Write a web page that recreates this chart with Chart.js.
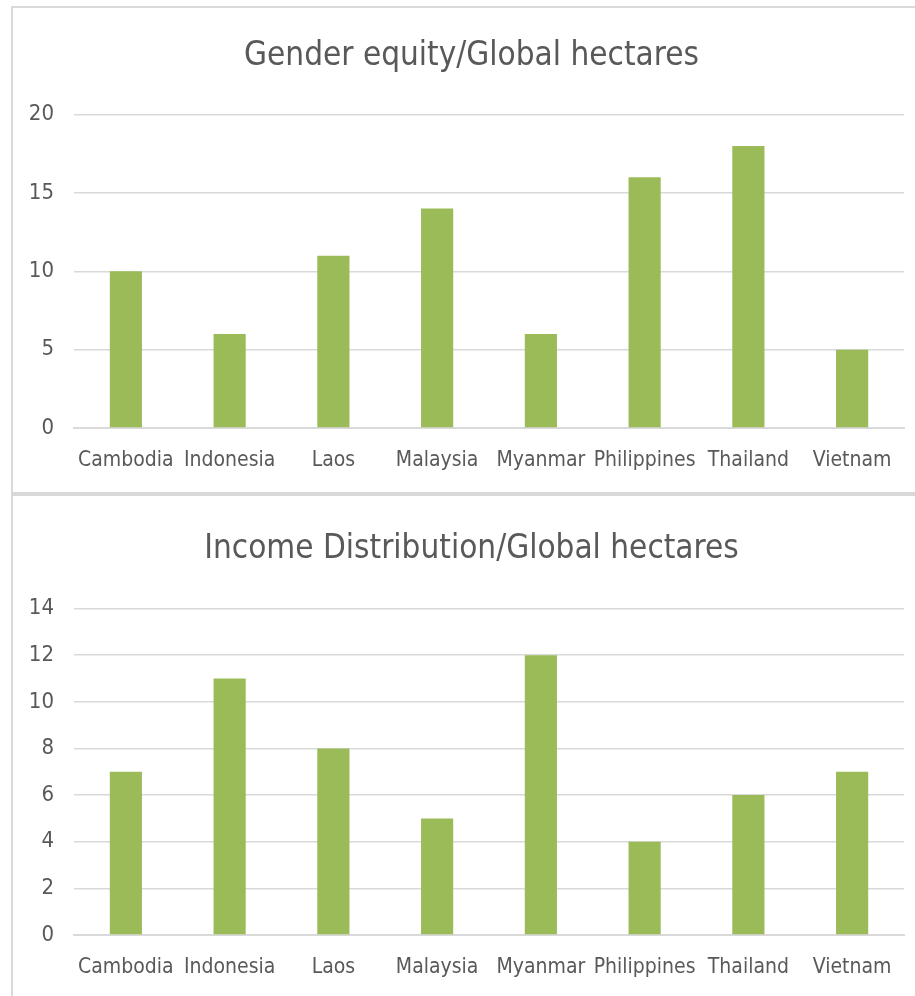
<!DOCTYPE html>
<html>
<head>
<meta charset="utf-8">
<script src="https://cdn.jsdelivr.net/npm/chart.js@4.4.1/dist/chart.umd.min.js"></script>
<style>
  html, body { margin: 0; padding: 0; background: #ffffff; width: 915px; height: 996px; overflow: hidden; position: relative; }
  .panel { position: absolute; background: #fff; }
  #p1 { left: 11px; top: 6px; width: 930px; height: 486px; border-left: 2px solid #d9d9d9; border-top: 2px solid #d9d9d9; }
  #p2 { left: 11px; top: 492px; width: 930px; height: 504px; border-left: 2px solid #d9d9d9; border-top: 4px solid #d9d9d9; }
  canvas { display: block; }
</style>
</head>
<body>
<div class="panel" id="p1"><canvas id="c1" width="930" height="486"></canvas></div>
<div class="panel" id="p2"><canvas id="c2" width="930" height="504"></canvas></div>
<script>
const categories = ["Cambodia", "Indonesia", "Laos", "Malaysia", "Myanmar", "Philippines", "Thailand", "Vietnam"];
const genderEquity = [10, 6, 11, 14, 6, 16, 18, 5];
const incomeDistribution = [7, 11, 8, 5, 12, 4, 6, 7];
const title1 = "Gender equity/Global hectares";
const title2 = "Income Distribution/Global hectares";
const yTicks1 = { min: 0, max: 20, step: 5 };
const yTicks2 = { min: 0, max: 14, step: 2 };

const FONT = "'Liberation Sans Narrow', 'DejaVu Sans Condensed', 'Arial Narrow', sans-serif";
const TXT = "#595959";
const BAR = "#9bbb59";
const GRID = "#d9d9d9";

function makeChart(id, title, data, yt, geom) {
  return new Chart(document.getElementById(id), {
    type: 'bar',
    data: {
      labels: categories,
      datasets: [{ data: data, backgroundColor: BAR, borderWidth: 0, barPercentage: 0.31, categoryPercentage: 1.0, yAxisID: 'y' }]
    },
    options: {
      responsive: false,
      animation: false,
      devicePixelRatio: 1,
      layout: { padding: { left: 0, right: geom.right, top: 0, bottom: 0 } },
      plugins: {
        legend: { display: false },
        tooltip: { enabled: false },
        title: {
          display: true, text: title, color: TXT,
          font: { family: FONT, size: geom.titleSize, weight: 'normal' },
          padding: { top: geom.titleTop, bottom: geom.titleBottom }
        }
      },
      scales: {
        x: {
          grid: { display: false, drawTicks: false },
          border: { display: true, color: GRID, width: 2 },
          ticks: { color: TXT, font: { family: FONT, size: 21 }, padding: geom.xPad, maxRotation: 0, autoSkip: false },
          afterFit: s => { s.height = geom.xHeight; }
        },
        y: {
          position: 'left',
          min: yt.min, max: yt.max,
          grid: { color: GRID, lineWidth: 1.5, drawTicks: false },
          border: { display: false },
          ticks: { stepSize: yt.step, color: TXT, font: { family: FONT, size: 22 }, padding: 20 },
          afterFit: s => { s.width = geom.yWidth; }
        },
        yRightSpace: {
          position: 'right',
          display: true,
          min: 0, max: 1,
          grid: { display: false, drawTicks: false },
          border: { display: false },
          ticks: { display: false },
          afterFit: s => { s.width = geom.rightSpace; }
        }
      }
    }
  });
}

makeChart('c1', title1, genderEquity, yTicks1,
  { right: 13, rightSpace: 26, titleSize: 33, titleTop: 29, titleBottom: 38, xPad: 20, xHeight: 66, yWidth: 61 });
makeChart('c2', title2, incomeDistribution, yTicks2,
  { right: 13, rightSpace: 26, titleSize: 33, titleTop: 34, titleBottom: 39, xPad: 20, xHeight: 65, yWidth: 61 });
</script>
</body>
</html>
